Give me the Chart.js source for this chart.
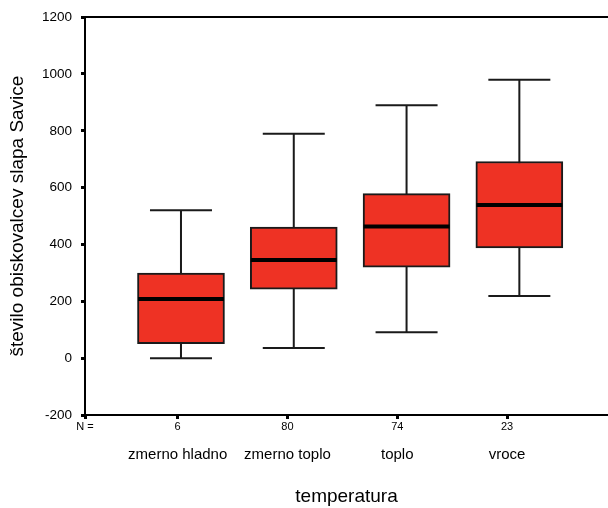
<!DOCTYPE html>
<html>
<head>
<meta charset="utf-8">
<script src="https://cdn.jsdelivr.net/npm/chart.js@4/dist/chart.umd.min.js"></script>
<style>
  html, body { margin: 0; padding: 0; background: #fff; }
  #wrap { width: 608px; height: 508px; }
</style>
</head>
<body>
<div id="wrap"><canvas id="c" width="608" height="508"></canvas></div>
<script>
// ---- data ----
const categories = ['zmerno hladno', 'zmerno toplo', 'toplo', 'vroce'];
const counts     = [6, 80, 74, 23];
const whiskerLow = [0, 36, 91, 219];
const q1         = [51, 243, 320, 388];
const median     = [208, 345, 463, 539];
const q3         = [299, 461, 579, 692];
const whiskerHigh= [520, 790, 890, 980];
const yTicks     = [-200, 0, 200, 400, 600, 800, 1000, 1200];
const nLabelPrefix = 'N =';
const yTitle = 'število obiskovalcev slapa Savice';
const xTitle = 'temperatura';

const FONT = "'Liberation Sans', Arial, sans-serif";
const RED = '#EE3224';

const idx = categories.map((_, i) => i + 1);

const boxData = idx.map((x, i) => ({ x: x, y: [q1[i], q3[i]] }));
const medData = idx.map((x, i) => ({ x: x, y: median[i] }));
const capData = [];
idx.forEach((x, i) => { capData.push({ x: x, y: whiskerLow[i] }); capData.push({ x: x, y: whiskerHigh[i] }); });
const whiskerData = [];
idx.forEach((x, i) => {
  whiskerData.push({ x: x, y: whiskerLow[i] });
  whiskerData.push({ x: x, y: whiskerHigh[i] });
  whiskerData.push({ x: x, y: null });
});

// axis ranges (layout)
const TICK_MIN = 0.156, TICK_MAX = 4.919;
const BOX_MIN = 0.149, BOX_MAX = 4.786;

new Chart(document.getElementById('c'), {
  type: 'bar',
  data: {
    datasets: [
      {
        type: 'line', data: whiskerData, xAxisID: 'xb', yAxisID: 'y',
        borderColor: '#1a1a1a', borderWidth: 2, pointRadius: 0, spanGaps: false,
        order: 5
      },
      {
        type: 'bar', data: boxData, xAxisID: 'xb', yAxisID: 'y',
        backgroundColor: RED, borderColor: '#1a1a1a', borderWidth: 2,
        borderSkipped: false, barThickness: 87, grouped: false, order: 3
      },
      {
        type: 'scatter', data: medData, xAxisID: 'xb', yAxisID: 'y',
        pointStyle: 'line', pointRadius: 43, borderColor: '#000', borderWidth: 4,
        pointHoverRadius: 43, order: 1
      },
      {
        type: 'scatter', data: capData, xAxisID: 'xb', yAxisID: 'y',
        pointStyle: 'line', pointRadius: 31, borderColor: '#1a1a1a', borderWidth: 2,
        pointHoverRadius: 31, order: 1
      }
    ]
  },
  options: {
    responsive: false,
    animation: false,
    events: [],
    layout: { autoPadding: false, padding: { top: 15, right: 0, bottom: 0, left: 0 } },
    plugins: { legend: { display: false }, tooltip: { enabled: false } },
    scales: {
      xb: {
        type: 'linear', display: false, offset: false, min: BOX_MIN, max: BOX_MAX
      },
      xt: {
        type: 'linear', position: 'top', offset: false, min: TICK_MIN, max: TICK_MAX,
        ticks: { display: false }, grid: { display: false, offset: false },
        border: { display: true, color: '#000', width: 2 },
        afterFit: s => { s.height = 0; }
      },
      xn: {
        type: 'linear', position: 'bottom', weight: 0, offset: false, min: TICK_MIN, max: TICK_MAX,
        afterBuildTicks: s => { s.ticks = [TICK_MIN].concat(idx).map(v => ({ value: v })); },
        ticks: {
          autoSkip: false, maxRotation: 0, padding: 1, color: '#000',
          font: { family: FONT, size: 11 },
          callback: (v, i) => i === 0 ? nLabelPrefix : String(counts[i - 1])
        },
        grid: { display: true, offset: false, drawOnChartArea: false, tickLength: 4, tickWidth: 3, tickColor: '#000', color: '#000' },
        border: { display: true, color: '#000', width: 2 },
        afterFit: s => { s.height = 20; }
      },
      xc: {
        type: 'linear', position: 'bottom', weight: 1, offset: false, min: TICK_MIN, max: TICK_MAX,
        afterBuildTicks: s => { s.ticks = idx.map(v => ({ value: v })); },
        ticks: {
          autoSkip: false, maxRotation: 0, padding: 3, color: '#000',
          font: { family: FONT, size: 15 },
          callback: (v, i) => categories[i]
        },
        grid: { display: false, offset: false },
        border: { display: false },
        title: { display: true, text: xTitle, color: '#000', font: { family: FONT, size: 19 }, padding: { top: 0, bottom: 0 } },
        afterFit: s => { s.height = 73; }
      },
      y: {
        type: 'linear', position: 'left', min: -200, max: 1200,
        afterBuildTicks: s => { s.ticks = yTicks.map(v => ({ value: v })); },
        ticks: { color: '#000', padding: 9, font: { family: FONT, size: 13.5 }, callback: v => String(v) },
        grid: { display: true, drawOnChartArea: false, tickLength: 4, tickWidth: 3, tickColor: '#000', color: '#000' },
        border: { display: true, color: '#000', width: 2 },
        title: { display: true, text: yTitle, color: '#000', font: { family: FONT, size: 19 }, padding: { top: 6, bottom: 0 } },
        afterFit: s => { s.width = 85; }
      }
    }
  }
});
</script>
</body>
</html>
